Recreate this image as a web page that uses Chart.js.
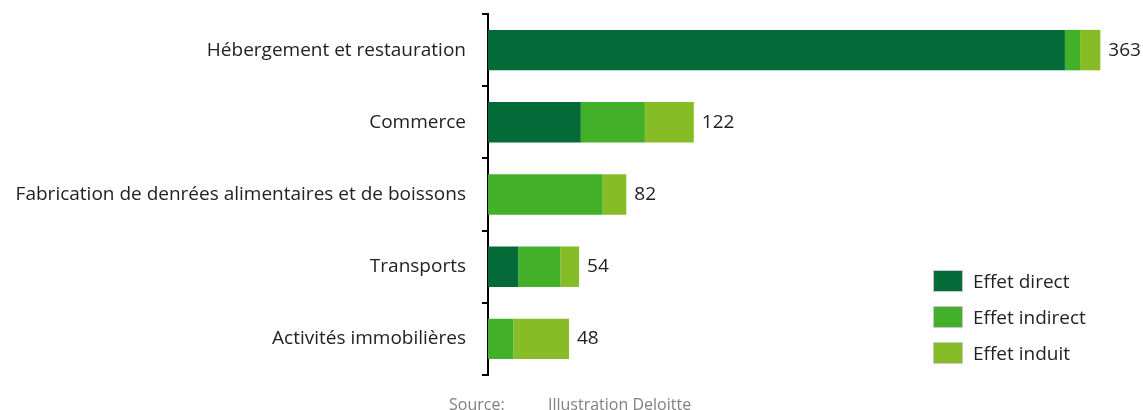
<!DOCTYPE html>
<html>
<head>
<meta charset="utf-8">
<script src="https://cdn.jsdelivr.net/npm/chart.js@4"></script>
<style>
  body { margin: 0; background: #fff; font-family: "Open Sans", sans-serif; }
  #wrap { position: relative; width: 1143px; height: 410px; }
  #legend { position: absolute; left: 933px; top: 263px; }
  .item { display: flex; align-items: center; height: 36px; font-size: 19px; color: #222; }
  .item span.box { width: 30px; height: 22px; margin-right: 10px; box-sizing: border-box; border: 1px solid #c8c8c8; }
  #source { position: absolute; top: 393px; left: 449px; font-size: 16px; color: #808080; }
  #source span { display: inline-block; width: 99px; }
</style>
</head>
<body>
<div id="wrap">
  <canvas id="chart" width="1143" height="410"></canvas>
  <div id="legend"></div>
  <div id="source"><span>Source:</span>Illustration Deloitte</div>
</div>
<script>
const categories = ['Hébergement et restauration', 'Commerce', 'Fabrication de denrées alimentaires et de boissons', 'Transports', 'Activités immobilières'];
const effetDirect = [342, 55, 0, 18, 0];
const effetIndirect = [9, 38, 68, 25, 15];
const effetInduit = [12, 29, 14, 11, 33];
const totals = [363, 122, 82, 54, 48];
const seriesNames = ['Effet direct', 'Effet indirect', 'Effet induit'];
const colors = ['#046A38', '#43B02A', '#86BC25'];

window.addEventListener("DOMContentLoaded", () => {
  // étiquettes des totaux au bout des barres
  const totalLabels = {
    id: 'totalLabels',
    afterDatasetsDraw(chart) {
      const ctx = chart.ctx;
      const meta = chart.getDatasetMeta(2);
      ctx.save();
      ctx.font = '19px "Open Sans"';
      ctx.fillStyle = '#222';
      ctx.textBaseline = 'middle';
      meta.data.forEach((bar, i) => {
        ctx.fillText(String(totals[i]), bar.x + 8, bar.y);
      });
      ctx.restore();
    }
  };

  const ctx = document.getElementById('chart').getContext('2d');
  const datasets = [effetDirect, effetIndirect, effetInduit].map((d, i) => ({
    label: seriesNames[i],
    data: d,
    backgroundColor: colors[i],
    borderWidth: 0,
    barPercentage: 0.56,
    categoryPercentage: 1
  }));

  new Chart(ctx, {
    type: 'bar',
    data: { labels: categories, datasets: datasets },
    options: {
      indexAxis: 'y',
      responsive: false,
      animation: false,
      layout: { padding: { top: 14, bottom: 35, right: 14, left: 0 } },
      plugins: { legend: { display: false }, tooltip: { enabled: false } },
      scales: {
        x: { stacked: true, min: 0, max: 380, display: false },
        y: {
          stacked: true,
          afterFit(scale) {
            scale.width = 488;
            scale.paddingTop = 0;
            scale.paddingBottom = 0;
          },
          grid: { offset: true, drawOnChartArea: false, tickLength: 6, color: '#000', lineWidth: 2 },
          border: { display: true, color: '#000', width: 2 },
          ticks: { color: '#222', font: { family: 'Open Sans', size: 19 }, padding: 16 }
        }
      }
    },
    plugins: [totalLabels]
  });

  // légende
  const legend = document.getElementById('legend');
  seriesNames.forEach((name, i) => {
    const row = document.createElement('div');
    row.className = 'item';
    row.innerHTML = '<span class="box" style="background:' + colors[i] + '"></span>' + name;
    legend.appendChild(row);
  });
});
</script>
</body>
</html>
